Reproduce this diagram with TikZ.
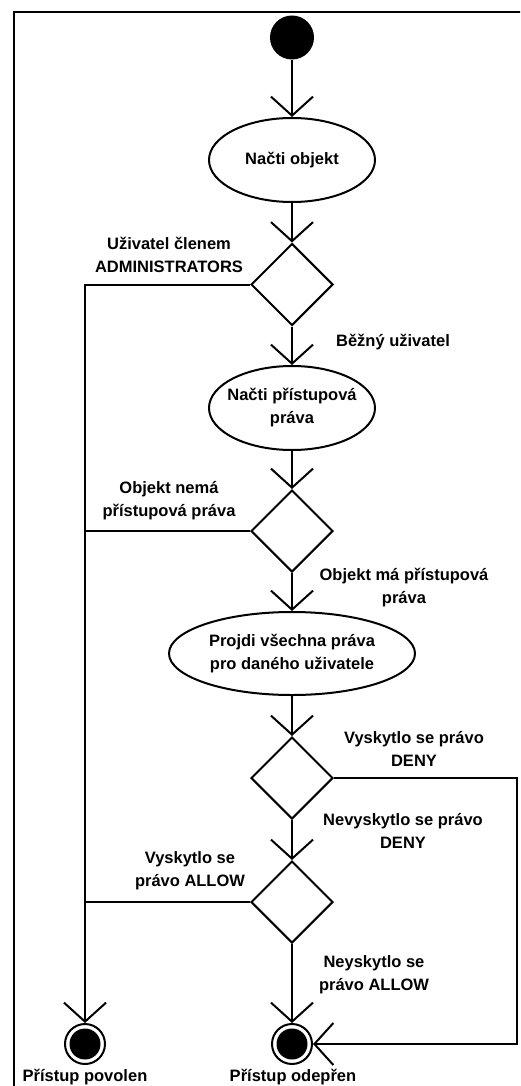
\documentclass[tikz,border=0pt]{standalone}
\usepackage{fontspec}
\setmainfont{Liberation Sans}
\usetikzlibrary{shapes.geometric,arrows.meta}

\begin{document}
\begin{tikzpicture}[x=1pt,y=-1pt,
  every node/.style={font=\fontsize{16.5}{23}\selectfont\bfseries},
  flow/.style={line width=2pt, -{Straight Barb[length=19pt,width=42pt]}},
  link/.style={line width=2pt},
  act/.style={ellipse, draw, line width=2pt, inner sep=0pt},
  acttext/.style={label={[align=center, inner sep=0pt]center:#1}},
  choice/.style={diamond, draw, line width=2pt, minimum width=82pt, minimum height=82pt, inner sep=0pt},
  initial/.style={circle, fill=black, minimum size=44pt, inner sep=0pt},
  final/.style={circle, draw, line width=2pt, minimum size=40pt, inner sep=0pt,
    path picture={\fill[black] (path picture bounding box.center) circle (15.5pt);}},
  lbl/.style={align=center, inner sep=0pt}]

\useasboundingbox (0,0) rectangle (520,1086);
\clip (0,0) rectangle (520,1086);

% diagram frame
\draw[line width=1.2pt] (14,12) rectangle (540,1110);

% activities and decisions
\node[initial] (start) at (292,37.5) {};
\node[act, minimum width=166pt, minimum height=84pt, acttext={Načti objekt}] (load) at (292,160) {};
\node[choice] (admin) at (292,284.5) {};
\node[act, minimum width=166pt, minimum height=84pt, acttext={Načti přístupová\\práva}] (rights) at (292,408) {};
\node[choice] (hasacl) at (292,531) {};
\node[act, minimum width=246pt, minimum height=83pt, acttext={Projdi všechna práva\\pro daného uživatele}] (scan) at (292,653.5) {};
\node[choice] (deny) at (292,778) {};
\node[choice] (allow) at (292,902) {};
\node[final] (granted) at (85,1044) {};
\node[final] (refused) at (292,1044) {};
\coordinate (loop) at (517,778);

% guard and end labels
\node[lbl] (l1) at (169,255) {Uživatel členem\\ADMINISTRATORS};
\node[lbl] (l2) at (393,342) {Běžný uživatel};
\node[lbl] (l3) at (169,501) {Objekt nemá\\přístupová práva};
\node[lbl] (l4) at (404,588) {Objekt má přístupová\\práva};
\node[lbl] (l5) at (414,749) {Vyskytlo se právo\\DENY};
\node[lbl] (l6) at (403,831) {Nevyskytlo se právo\\DENY};
\node[lbl] (l7) at (190,871) {Vyskytlo se\\právo ALLOW};
\node[lbl] (l8) at (374,975) {Neyskytlo se\\právo ALLOW};
\node[lbl] (t1) at (85,1077) {Přístup povolen};
\node[lbl] (t2) at (293,1077) {Přístup odepřen};

% control flow
\draw[flow] (start) -- (load);
\draw[flow] (load) -- (admin);
\draw[flow] (admin.west) -| (granted);
\draw[flow] (admin) -- (rights);
\draw[flow] (rights) -- (hasacl);
\draw[link] (hasacl.west) -- (hasacl.west -| granted);
\draw[flow] (hasacl) -- (scan);
\draw[flow] (scan) -- (deny);
\draw[flow] (deny.east) -- (loop) |- (refused);
\draw[flow] (deny) -- (allow);
\draw[link] (allow.west) -- (allow.west -| granted);
\draw[flow] (allow) -- (refused);
\end{tikzpicture}
\end{document}
